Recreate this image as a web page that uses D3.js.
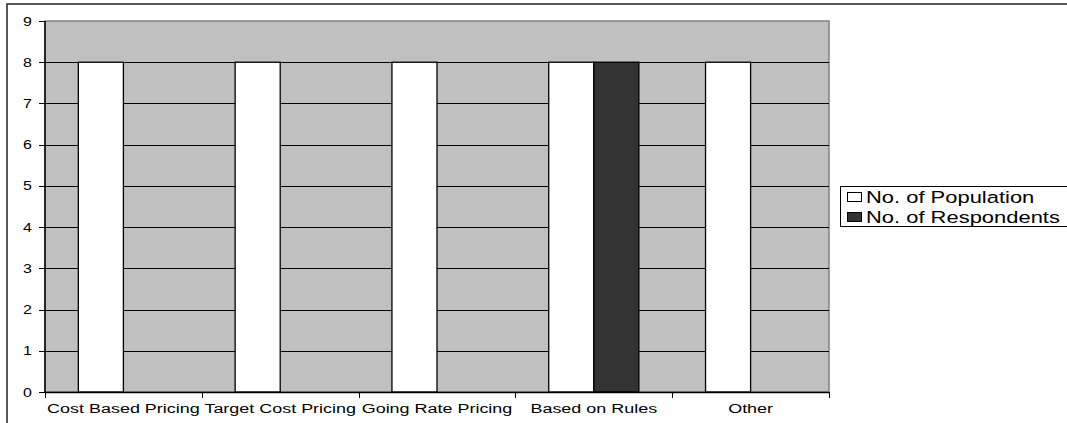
<!DOCTYPE html>
<html>
<head>
<meta charset="utf-8">
<script src="https://cdn.jsdelivr.net/npm/d3@7.9.0/dist/d3.min.js"></script>
<style>
  html, body { margin: 0; padding: 0; background: #fff; }
  svg { display: block; font-family: "Liberation Sans", Arial, sans-serif; }
</style>
</head>
<body>
<div id="chart"></div>
<script>
const categories = ['Cost Based Pricing', 'Target Cost Pricing', 'Going Rate Pricing', 'Based on Rules', 'Other'];
const seriesNames = ['No. of Population', 'No. of Respondents'];
const population = [8, 8, 8, 8, 8];
const respondents = [0, 0, 0, 8, 0];
const yTicks = [0, 1, 2, 3, 4, 5, 6, 7, 8, 9];
const seriesColors = ['#ffffff', '#333333'];

// the original picture is stretched sideways, so text is too
const SX = 1.33;

const width = 1067;
const height = 423;
const plot = { left: 45, right: 829, top: 21, bottom: 392 };

const svg = d3.select('#chart')
    .append('svg')
    .attr('width', width)
    .attr('height', height);

// chart frame (runs off the right and bottom edges)
svg.append('rect')
    .attr('x', 7).attr('y', 4)
    .attr('width', 1100).attr('height', 450)
    .attr('fill', 'none')
    .attr('stroke', '#222')
    .attr('stroke-width', 1.5);

const x0 = d3.scaleBand()
    .domain(categories)
    .range([plot.left, plot.right])
    .padding(0);

const x1 = d3.scaleBand()
    .domain(seriesNames)
    .range([0, x0.bandwidth()])
    .paddingInner(0)
    .paddingOuter(0.74);

const y = d3.scaleLinear()
    .domain([0, 9])
    .range([plot.bottom, plot.top]);

// plot area
svg.append('rect')
    .attr('x', plot.left).attr('y', plot.top)
    .attr('width', plot.right - plot.left)
    .attr('height', plot.bottom - plot.top)
    .attr('fill', '#c0c0c0')
    .attr('stroke', '#808080')
    .attr('stroke-width', 1.5);

// gridlines
svg.append('g')
    .selectAll('line')
    .data(yTicks.filter(d => d > 0 && d < 9))
    .join('line')
    .attr('x1', plot.left).attr('x2', plot.right)
    .attr('y1', d => Math.round(y(d)) + 0.5)
    .attr('y2', d => Math.round(y(d)) + 0.5)
    .attr('stroke', '#000')
    .attr('stroke-width', 1);

// bars
const rows = categories.map((c, i) => ({ cat: c, values: [population[i], respondents[i]] }));

svg.append('g')
    .selectAll('g')
    .data(rows)
    .join('g')
    .attr('transform', d => `translate(${x0(d.cat)},0)`)
    .selectAll('rect')
    .data(d => d.values.map((v, j) => ({ series: seriesNames[j], value: v, j })))
    .join('rect')
    .filter(d => d.value > 0)
    .attr('x', d => x1(d.series))
    .attr('width', x1.bandwidth())
    .attr('y', d => y(d.value))
    .attr('height', d => y(0) - y(d.value))
    .attr('fill', d => seriesColors[d.j])
    .attr('stroke', '#000')
    .attr('stroke-width', 1.3);

// y axis
const yAxis = svg.append('g');
yAxis.append('line')
    .attr('x1', plot.left).attr('x2', plot.left)
    .attr('y1', plot.top).attr('y2', plot.bottom)
    .attr('stroke', '#000').attr('stroke-width', 1.5);
yAxis.selectAll('line.tick')
    .data(yTicks)
    .join('line')
    .attr('class', 'tick')
    .attr('x1', plot.left - 6).attr('x2', plot.left)
    .attr('y1', d => Math.round(y(d)) + 0.5)
    .attr('y2', d => Math.round(y(d)) + 0.5)
    .attr('stroke', '#000');
yAxis.selectAll('text')
    .data(yTicks)
    .join('text')
    .attr('transform', d => `translate(32,${y(d) + 4.5}) scale(${SX},1)`)
    .attr('text-anchor', 'end')
    .attr('font-size', 12)
    .attr('fill', '#000')
    .text(d => d);

// x axis
const xAxis = svg.append('g');
xAxis.append('line')
    .attr('x1', plot.left).attr('x2', plot.right)
    .attr('y1', plot.bottom + 0.5).attr('y2', plot.bottom + 0.5)
    .attr('stroke', '#000').attr('stroke-width', 1.5);
const bounds = categories.map(c => x0(c)).concat([plot.right]);
xAxis.selectAll('line.tick')
    .data(bounds)
    .join('line')
    .attr('class', 'tick')
    .attr('x1', d => Math.round(d) + 0.5).attr('x2', d => Math.round(d) + 0.5)
    .attr('y1', plot.bottom).attr('y2', plot.bottom + 6)
    .attr('stroke', '#000');
xAxis.selectAll('text')
    .data(categories)
    .join('text')
    .attr('transform', d => `translate(${x0(d) + x0.bandwidth() / 2},413) scale(${SX},1)`)
    .attr('text-anchor', 'middle')
    .attr('font-size', 13.5)
    .attr('fill', '#000')
    .text(d => d);

// legend (box runs past the right edge)
const legend = svg.append('g');
legend.append('rect')
    .attr('x', 840.5).attr('y', 186.5)
    .attr('width', 240).attr('height', 40)
    .attr('fill', '#fff')
    .attr('stroke', '#000')
    .attr('stroke-width', 1);
const items = legend.selectAll('g')
    .data(seriesNames)
    .join('g')
    .attr('transform', (d, i) => `translate(0,${197 + i * 20})`);
items.append('rect')
    .attr('x', 847.5).attr('y', -4.5)
    .attr('width', 14).attr('height', 9)
    .attr('fill', (d, i) => seriesColors[i])
    .attr('stroke', '#000');
items.append('text')
    .attr('transform', `translate(866,5.5) scale(${SX},1)`)
    .attr('font-size', 16.5)
    .attr('fill', '#000')
    .text(d => d);
</script>
</body>
</html>
